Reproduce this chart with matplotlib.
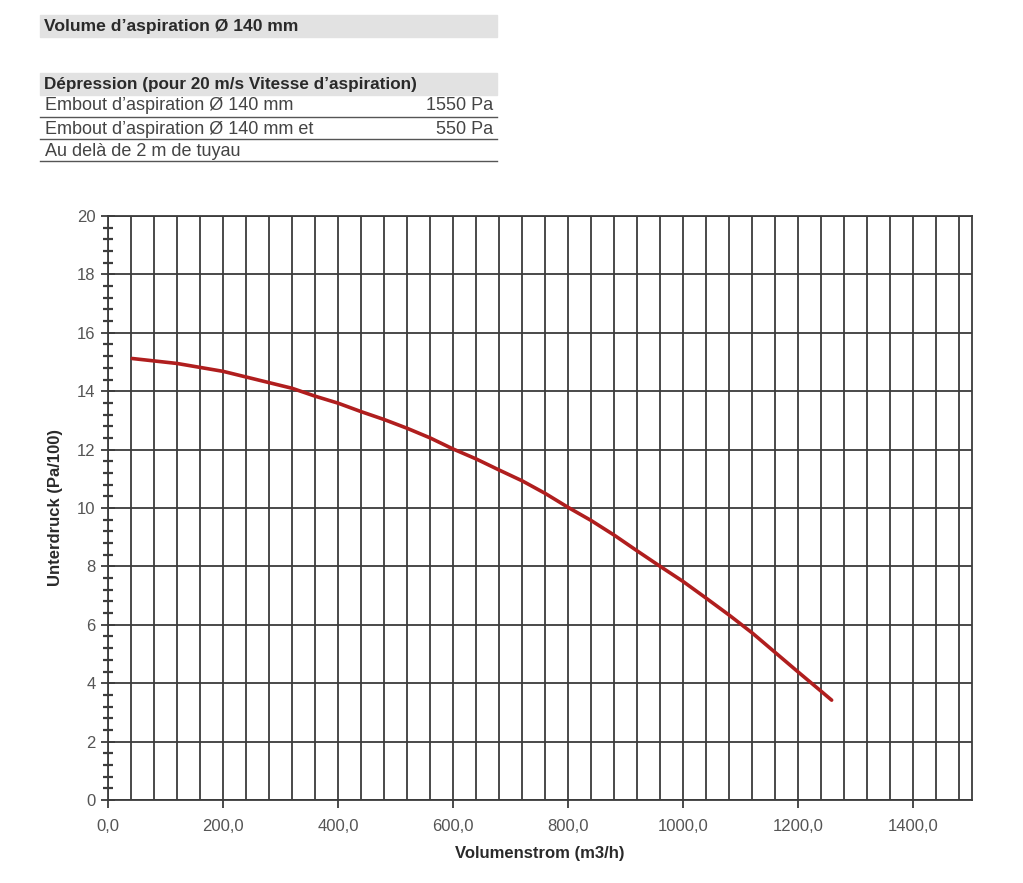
import matplotlib
matplotlib.use("Agg")
import matplotlib.pyplot as plt
from matplotlib.ticker import MultipleLocator, FuncFormatter

# curve (m3/h, Pa/100)
flowValues = [42, 120, 200, 320, 360, 400, 440, 480, 520, 560, 600, 640, 680, 720,
              760, 800, 840, 880, 920, 960, 1000, 1040, 1080, 1120, 1160, 1200, 1240, 1258]
pressureValues = [15.12, 14.95, 14.68, 14.1, 13.83, 13.59, 13.3, 13.03, 12.73, 12.4, 12.02, 11.68, 11.3, 10.93,
                  10.5, 10.02, 9.57, 9.07, 8.53, 8.0, 7.48, 6.91, 6.33, 5.72, 5.05, 4.38, 3.72, 3.42]

headerTitle = "Volume d\u2019aspiration \u00d8 140 mm"
tableTitle = "D\u00e9pression (pour 20 m/s Vitesse d\u2019aspiration)"
tableRows = ["Embout d\u2019aspiration \u00d8 140 mm",
             "Embout d\u2019aspiration \u00d8 140 mm et",
             "Au del\u00e0 de 2 m de tuyau"]
tableValues = ["1550 Pa", "550 Pa", ""]

W, H = 1023, 883
fig = plt.figure(figsize=(W / 100, H / 100), dpi=100)
plt.rcParams['font.family'] = ['Liberation Sans', 'DejaVu Sans']

textColor = "#2a2a2a"
ruleColor = "#555555"

def fx(px):
    return px / W

def fy(py):
    return 1 - py / H

# header blocks
fig.patches.append(plt.Rectangle((fx(40), fy(37)), fx(457), 22 / H, transform=fig.transFigure,
                                 color="#e2e2e2", zorder=0))
fig.text(fx(44), fy(27), headerTitle, fontsize=12.6, fontweight="bold", color=textColor, va="center")

fig.patches.append(plt.Rectangle((fx(40), fy(95)), fx(457), 22 / H, transform=fig.transFigure,
                                 color="#e2e2e2", zorder=0))
fig.text(fx(44), fy(85), tableTitle, fontsize=12.3, fontweight="bold", color=textColor, va="center")

rowY = [105, 129, 151]
lineY = [117, 139, 161]
for label, value, ty, ly in zip(tableRows, tableValues, rowY, lineY):
    fig.text(fx(45), fy(ty), label, fontsize=13, color="#444444", va="center")
    if value:
        fig.text(fx(493), fy(ty), value, fontsize=13, color="#444444", va="center", ha="right")
    fig.add_artist(plt.Line2D([fx(40), fx(497)], [fy(ly), fy(ly)], transform=fig.transFigure,
                              color=ruleColor, lw=1.0))

# chart
ax = fig.add_axes([fx(108), fy(800), fx(972 - 108), (800 - 216) / H])
ax.plot(flowValues, pressureValues, color="#b01e1e", lw=2.6, zorder=3,
        solid_capstyle="round", solid_joinstyle="round")

ax.set_xlim(0, 1502)
ax.set_ylim(0, 20)
ax.xaxis.set_major_locator(MultipleLocator(200))
ax.xaxis.set_minor_locator(MultipleLocator(40))
ax.yaxis.set_major_locator(MultipleLocator(2))
ax.yaxis.set_minor_locator(MultipleLocator(0.4))
ax.xaxis.set_major_formatter(FuncFormatter(lambda v, p: f"{v:.1f}".replace(".", ",")))

gridColor = "#3c3c3c"
ax.grid(which="major", axis="y", color=gridColor, lw=1.3)
ax.grid(which="both", axis="x", color=gridColor, lw=1.3)
for spine in ax.spines.values():
    spine.set_color(gridColor)
    spine.set_linewidth(1.3)

ax.tick_params(axis="y", which="major", direction="inout", length=10, width=1.3, color=gridColor,
               labelsize=12, labelcolor="#555555", pad=4)
ax.tick_params(axis="y", which="minor", direction="inout", length=7, width=1.6, color=gridColor)
ax.tick_params(axis="x", which="major", direction="out", length=6, width=1.3, color=gridColor,
               labelsize=12, labelcolor="#555555", pad=8)
ax.tick_params(axis="x", which="minor", length=0)

ax.set_xlabel("Volumenstrom (m3/h)", fontsize=12, fontweight="bold", color=textColor, labelpad=8)
ax.set_ylabel("Unterdruck (Pa/100)", fontsize=12, fontweight="bold", color=textColor, labelpad=10)

fig.savefig("out.png", dpi=100)
